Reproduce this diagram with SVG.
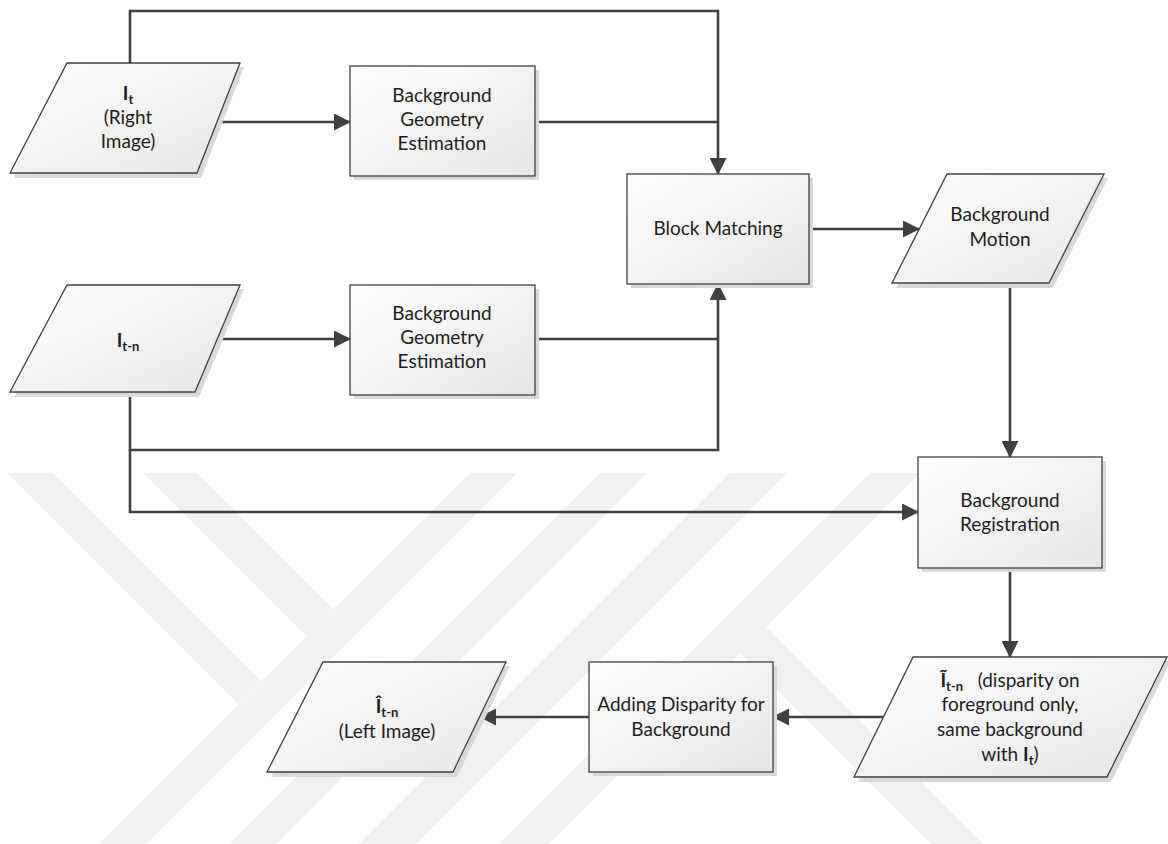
<svg xmlns="http://www.w3.org/2000/svg" width="1168" height="844" viewBox="0 0 1168 844">
<defs>
<linearGradient id="fill" x1="0" y1="0" x2="1" y2="1">
<stop offset="0" stop-color="#ffffff"/>
<stop offset="1" stop-color="#e6e6e6"/>
</linearGradient>
<marker id="arr" markerUnits="userSpaceOnUse" markerWidth="17" markerHeight="17" refX="16" refY="8.5" orient="auto">
<path d="M0,0 L17,8.5 L0,17 z" fill="#404040"/>
</marker>
<style>
.shape{fill:url(#fill);stroke:#404040;stroke-width:1.3}
.shadow{fill:#d9d9d9}
.wm{fill:#f1f1f1}
.conn{fill:none;stroke:#404040;stroke-width:2.6}
text{font-family:Lato,"Open Sans","Liberation Sans",sans-serif;font-size:19px;fill:#1e1e1e;text-anchor:middle}
.b{font-weight:bold}
.sub{font-weight:bold;font-size:13px}
</style>
</defs>
<rect width="1168" height="844" fill="#ffffff"/>
<g id="watermark">
<polygon class="wm" points="7,473 53,473 261.5,681.5 238,704"/>
<polygon class="wm" points="143,473 197,473 333.5,609.5 306.5,636.5"/>
<polygon class="wm" points="470,473 517,473 146,844 99,844"/>
<polygon class="wm" points="600,473 647,473 276,844 229,844"/>
<polygon class="wm" points="730,473 787,473 416,844 359,844"/>
<polygon class="wm" points="870,473 920,473 549,844 499,844"/>
<polygon class="wm" points="766,627 740,653 931,844 983,844"/>
</g>
<g id="connectors">
<path class="conn" d="M130,63 V11 H718 V174" marker-end="url(#arr)"/>
<path class="conn" d="M535,122 H718"/>
<path class="conn" d="M217,122 H350" marker-end="url(#arr)"/>
<path class="conn" d="M217,339 H350" marker-end="url(#arr)"/>
<path class="conn" d="M535,339 H718"/>
<path class="conn" d="M130,392 V450 H718 V284" marker-end="url(#arr)"/>
<path class="conn" d="M130,450 V512 H918" marker-end="url(#arr)"/>
<path class="conn" d="M809,229 H919" marker-end="url(#arr)"/>
<path class="conn" d="M1010,283 V457" marker-end="url(#arr)"/>
<path class="conn" d="M1010,568 V657" marker-end="url(#arr)"/>
<path class="conn" d="M883,717 H773" marker-end="url(#arr)"/>
<path class="conn" d="M589,717 H480" marker-end="url(#arr)"/>
</g>
<g id="node-it">
<polygon class="shadow" points="71,67 244,67 201,178 14,178"/>
<polygon class="shape" points="67,63 240,63 197,173 10,173"/>
<text x="128" y="100"><tspan class="b">I</tspan><tspan class="sub" dy="4">t</tspan></text>
<text x="128" y="124">(Right</text>
<text x="128" y="148">Image)</text>
</g>
<g id="node-bge1">
<rect class="shadow" x="354" y="70" width="185" height="110"/>
<rect class="shape" x="350" y="66" width="185" height="110"/>
<text x="442" y="102">Background</text>
<text x="442" y="126">Geometry</text>
<text x="442" y="150">Estimation</text>
</g>
<g id="node-itn">
<polygon class="shadow" points="71,289 244,289 199,397 14,397"/>
<polygon class="shape" points="67,285 240,285 195,392 10,392"/>
<text x="128" y="347"><tspan class="b">I</tspan><tspan class="sub" dy="4">t-n</tspan></text>
</g>
<g id="node-bge2">
<rect class="shadow" x="354" y="289" width="185" height="110"/>
<rect class="shape" x="350" y="285" width="185" height="110"/>
<text x="442" y="320">Background</text>
<text x="442" y="344">Geometry</text>
<text x="442" y="368">Estimation</text>
</g>
<g id="node-bm">
<rect class="shadow" x="631" y="178" width="182" height="110"/>
<rect class="shape" x="627" y="174" width="182" height="110"/>
<text x="718" y="235">Block Matching</text>
</g>
<g id="node-bmotion">
<polygon class="shadow" points="951,178 1108,178 1053,288 896,288"/>
<polygon class="shape" points="947,174 1104,174 1049,283 892,283"/>
<text x="1000" y="221">Background</text>
<text x="1000" y="246">Motion</text>
</g>
<g id="node-breg">
<rect class="shadow" x="922" y="461" width="184" height="111"/>
<rect class="shape" x="918" y="457" width="184" height="111"/>
<text x="1010" y="507">Background</text>
<text x="1010" y="531">Registration</text>
</g>
<g id="node-tilde">
<polygon class="shadow" points="917,661 1171,661 1111,782 858,782"/>
<polygon class="shape" points="913,657 1167,657 1107,777 854,777"/>
<text x="1010" y="687" xml:space="preserve"><tspan class="b">Ĩ</tspan><tspan class="sub" dy="4">t-n</tspan><tspan dy="-4">   (disparity on</tspan></text>
<text x="1010" y="711">foreground only,</text>
<text x="1010" y="736">same background</text>
<text x="1010" y="761">with <tspan class="b">I</tspan><tspan class="sub" dy="4">t</tspan><tspan dy="-4">)</tspan></text>
</g>
<g id="node-adding">
<rect class="shadow" x="593" y="666" width="184" height="110"/>
<rect class="shape" x="589" y="662" width="184" height="110"/>
<text x="681" y="711">Adding Disparity for</text>
<text x="681" y="736">Background</text>
</g>
<g id="node-ihat">
<polygon class="shadow" points="327,666 510,666 457,777 271,777"/>
<polygon class="shape" points="323,662 506,662 453,772 267,772"/>
<text x="387" y="713"><tspan class="b">Î</tspan><tspan class="sub" dy="4">t-n</tspan></text>
<text x="387" y="738">(Left Image)</text>
</g>
</svg>
